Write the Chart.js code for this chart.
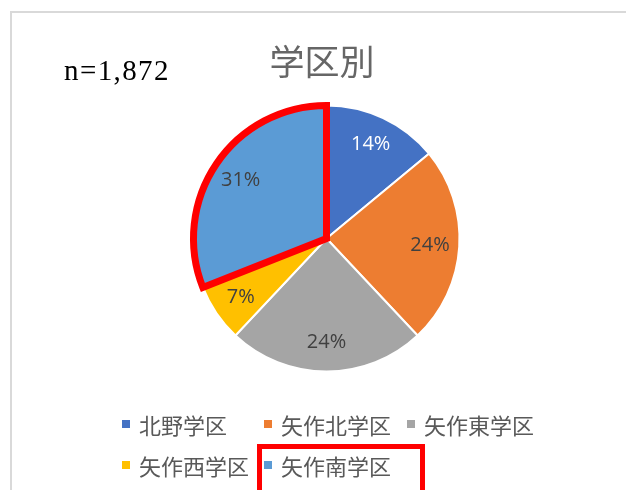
<!DOCTYPE html>
<html>
<head>
<meta charset="utf-8">
<script src="https://cdn.jsdelivr.net/npm/chart.js@4/dist/chart.umd.min.js"></script>
<style>
  html, body { margin: 0; padding: 0; background: #fff; }
  #wrap { position: relative; width: 626px; height: 490px; overflow: hidden; }
  #frame { position: absolute; left: 10px; top: 11px; width: 700px; height: 600px; border: 2px solid #d9d9d9; box-sizing: border-box; }
  canvas { position: absolute; left: 0; top: 0; }
  #title { position: absolute; left: 0; width: 644px; top: 38px; text-align: center; font-family: "Noto Sans CJK JP"; font-size: 35px; color: #666; line-height: 44px; }
  #ncount { position: absolute; left: 64px; top: 52px; font-family: "Liberation Serif", serif; font-size: 29px; letter-spacing: 1.4px; color: #000; line-height: 36px; }
  .lg { position: absolute; font-family: "Noto Sans CJK JP"; font-size: 22px; color: #595959; line-height: 26px; white-space: nowrap; }
  .lg i { position: absolute; left: 0; top: 9px; width: 8px; height: 8px; }
  .lg span { position: absolute; left: 17px; top: 0; }
  #hl { position: absolute; left: 257px; top: 444px; width: 168px; height: 80px; border: 5px solid #ff0000; box-sizing: border-box; }
</style>
</head>
<body>
<div id="wrap">
  <div id="frame"></div>
  <canvas id="c" width="626" height="490"></canvas>
  <div id="title">学区別</div>
  <div id="ncount">n=1,872</div>
  <div id="legend"></div>
  <div id="hl"></div>
</div>
<script>
const categories = ['北野学区', '矢作北学区', '矢作東学区', '矢作西学区', '矢作南学区'];
const shares = [14, 24, 24, 7, 31];
const sliceColors = ['#4472C4', '#ED7D31', '#A5A5A5', '#FFC000', '#5B9BD5'];
const labelColors = ['#ffffff', '#404040', '#404040', '#404040', '#404040'];
const highlightIndex = 4;

// legend (Excel-style grid)
const legend = document.getElementById('legend');
const colX = [122, 264, 407];
const rowY = [411, 452];
categories.forEach((name, i) => {
  const d = document.createElement('div');
  d.className = 'lg';
  d.style.left = colX[i % 3] + 'px';
  d.style.top = rowY[Math.floor(i / 3)] + 'px';
  d.innerHTML = '<i style="background:' + sliceColors[i] + '"></i><span>' + name + '</span>';
  legend.appendChild(d);
});

const pctLabels = {
  id: 'pctLabels',
  afterDatasetsDraw(chart) {
    const ctx = chart.ctx;
    const meta = chart.getDatasetMeta(0);
    ctx.save();
    ctx.font = '20px "Open Sans"';
    ctx.textAlign = 'center';
    ctx.textBaseline = 'middle';
    meta.data.forEach((arc, i) => {
      const p = arc.getProps(['x', 'y', 'startAngle', 'endAngle', 'outerRadius'], true);
      const mid = (p.startAngle + p.endAngle) / 2;
      const r = p.outerRadius * 0.78;
      ctx.fillStyle = labelColors[i];
      ctx.fillText(shares[i] + '%', p.x + Math.cos(mid) * r, p.y + Math.sin(mid) * r);
    });
    ctx.restore();
  }
};

const borderColors = categories.map((_, i) => i === highlightIndex ? '#ff0000' : '#ffffff');
const borderWidths = categories.map((_, i) => i === highlightIndex ? 7 : 2);

new Chart(document.getElementById('c'), {
  type: 'pie',
  data: {
    labels: categories,
    datasets: [{
      data: shares,
      backgroundColor: sliceColors,
      borderColor: borderColors,
      borderWidth: borderWidths,
      hoverBorderWidth: borderWidths,
      borderJoinStyle: 'miter',
      borderAlign: 'center'
    }]
  },
  options: {
    responsive: false,
    animation: false,
    devicePixelRatio: 1,
    events: [],
    layout: { padding: { left: 190, top: 102, right: 163, bottom: 115 } },
    plugins: { legend: { display: false }, title: { display: false }, tooltip: { enabled: false } }
  },
  plugins: [pctLabels]
});
</script>
</body>
</html>
